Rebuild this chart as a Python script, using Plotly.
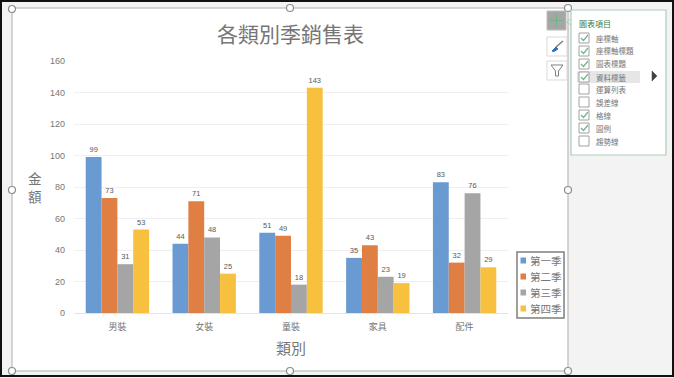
import plotly.graph_objects as go

W, H = 674, 378
PL, PR, PT, PB = 74, 508, 61, 313
categories = ["男裝", "女裝", "童裝", "家具", "配件"]
series_names = ["第一季", "第二季", "第三季", "第四季"]
q1 = [99, 44, 51, 35, 83]
q2 = [73, 71, 49, 43, 32]
q3 = [31, 48, 18, 23, 76]
q4 = [53, 25, 143, 19, 29]
colors = ["#699BD2", "#E07F43", "#A5A5A5", "#F8C03F"]
y_ticks = [0, 20, 40, 60, 80, 100, 120, 140, 160]
panel_items = ["座標軸", "座標軸標題", "圖表標題", "資料標籤", "運算列表", "誤差線", "格線", "圖例", "趨勢線"]
panel_checked = [True, True, True, True, False, False, True, True, False]
panel_rows = [38, 51, 64, 77, 89, 102, 115, 128, 141]
FONT = "Noto Sans CJK TC, Noto Sans, sans-serif"
TXT = "#767676"
GREEN = "#2f7d52"

fig = go.Figure()
for name, vals, c in zip(series_names, [q1, q2, q3, q4], colors):
    fig.add_bar(x=categories, y=vals, name=name, marker=dict(color=c, line=dict(width=0)),
                text=vals, textposition="outside", cliponaxis=False,
                textfont=dict(size=7.5, color="#595959", family="Liberation Sans"))

shapes, anns = [], []
def px(x): return (x - PL) / (PR - PL)
def py(y): return (PB - y) / (PB - PT)
def rect(x0, y0, x1, y1, fill=None, line=None, lw=1, layer="above"):
    shapes.append(dict(type="rect", xref="paper", yref="paper", x0=px(x0), x1=px(x1), y0=py(y0), y1=py(y1),
                       fillcolor=fill or "rgba(0,0,0,0)", line=dict(color=line or "rgba(0,0,0,0)", width=lw if line else 0), layer=layer))
def circle(cx, cy, r=3.5):
    shapes.append(dict(type="circle", xref="paper", yref="paper", x0=px(cx-r), x1=px(cx+r), y0=py(cy-r), y1=py(cy+r),
                       fillcolor="#ffffff", line=dict(color="#8c8c8c", width=1.2), layer="above"))
def path(points, color, lw=1.2, fill=None, close=False):
    d = "M " + " L ".join(f"{px(a):.5f},{py(b):.5f}" for a, b in points) + (" Z" if close else "")
    shapes.append(dict(type="path", xref="paper", yref="paper", path=d, line=dict(color=color, width=lw),
                       fillcolor=fill or "rgba(0,0,0,0)", layer="above"))
def text(x, y, s, size, color=TXT, xanchor="left", **kw):
    anns.append(dict(xref="paper", yref="paper", x=px(x), y=py(y), text=s, showarrow=False, xanchor=xanchor,
                     yanchor="middle", font=dict(size=size, color=color, family=FONT), borderpad=0, **kw))

# chart area
rect(12, 8, 568, 371, fill="#ffffff", line="#c8c8c8", lw=1.5, layer="below")
# outer frame
rect(1, 1, 673, 376, line="#111111", lw=2)
for cx, cy in [(12, 9), (290, 8), (568, 8), (12, 190), (568, 190), (12, 371), (290, 371), (568, 371)]:
    circle(cx, cy)

# titles
text(290, 33, "各類別季銷售表", 21, xanchor="center")
text(291, 347, "類別", 15, xanchor="center")
text(35, 187, "金<br>額", 13.5, xanchor="center")

# legend built from the series
rect(517, 252, 564, 318, fill="#ffffff", line="#7f7f7f", lw=1.5)
for i, (name, c) in enumerate(zip(series_names, colors)):
    yy = 260.5 + i * 16
    rect(520.5, yy - 3, 526, yy + 3, fill=c)
    text(529, yy, name, 10.5)

# toolbar buttons
rect(547, 11, 566, 30, fill="#a6a6a6", line="#bdbdbd")
path([(556.5, 14), (556.5, 27)], "#6fb487", 1)
path([(550, 20.5), (563, 20.5)], "#6fb487", 1)
rect(547, 37, 567, 56, fill="#ffffff", line="#d9d9d9")
path([(552, 51), (556, 47), (558, 49), (554, 51.5)], "#2f6fc0", 1, fill="#2f6fc0", close=True)
path([(556, 47), (563, 41)], "#7f7f7f", 1.6)
rect(547, 61, 567, 80, fill="#ffffff", line="#d9d9d9")
path([(551, 65), (563, 65), (558.5, 71), (558.5, 76), (555.5, 76), (555.5, 71)], "#7f7f7f", 1, close=True)

# chart-elements panel
rect(571, 10, 666, 155, fill="#ffffff", line="#a9d0b5", lw=1.2)
path([(571, 19), (566.5, 22), (571, 25)], "#a9d0b5", 1)
text(578, 23, "圖表項目", 8, color=GREEN)
rect(577, 71, 640, 83, fill="#e6e6e6")
for label, on, yy in zip(panel_items, panel_checked, panel_rows):
    rect(579, yy - 5, 589, yy + 5, fill="#ffffff", line="#8c8c8c", lw=0.8)
    if on:
        path([(581, yy), (583.5, yy + 2.5), (588, yy - 3)], "#6fb487", 1.2)
    text(595, yy, label, 7.5)
path([(652, 71), (657, 76), (652, 81)], "#404040", 0.5, fill="#404040", close=True)

fig.update_layout(
    width=W, height=H, autosize=False, showlegend=False,
    margin=dict(l=PL, r=W - PR, t=PT, b=H - PB, pad=0),
    paper_bgcolor="#f3f3f3", plot_bgcolor="rgba(0,0,0,0)",
    barmode="group", bargap=0.27, bargroupgap=0,
    font=dict(family=FONT, color=TXT),
    shapes=shapes, annotations=anns,
    xaxis=dict(showgrid=False, showline=True, linecolor="#e3e3e3", linewidth=1, ticks="",
               tickfont=dict(size=9, color=TXT), ticklabelstandoff=5),
    yaxis=dict(range=[0, 160], tickvals=y_ticks, showgrid=True, gridcolor="#efefef", gridwidth=1,
               zeroline=False, showline=False, ticks="", tickfont=dict(size=9, color=TXT, family="Liberation Sans"),
               ticklabelstandoff=8),
)
fig.write_html("out.html", config=dict(displayModeBar=False),
               post_script="document.body.style.margin='0';document.body.style.overflow='hidden';")
